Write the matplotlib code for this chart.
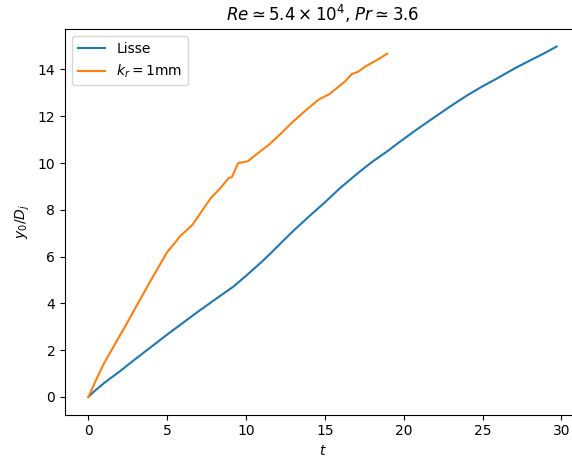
import numpy as np
import matplotlib
matplotlib.use("Agg")
import matplotlib.pyplot as plt

# Lisse (smooth wall)
t_lisse = [0, 0.3, 1, 2, 2.9, 4, 5, 6.1, 7, 8, 9.2, 10, 11, 11.65, 12.3, 13, 14,
           15, 16, 17.15, 18, 19, 19.7, 20.8, 22, 23, 24, 25, 25.8, 27, 28, 29, 29.7]
y_lisse = [0, 0.2, 0.6, 1.1, 1.58, 2.15, 2.67, 3.22, 3.67, 4.15, 4.72, 5.18, 5.78,
           6.2, 6.64, 7.1, 7.72, 8.32, 8.95, 9.6, 10.05, 10.52, 10.88, 11.42,
           11.98, 12.44, 12.88, 13.28, 13.57, 14.03, 14.38, 14.72, 14.98]

# k_r = 1mm (rough wall)
t_rough = [0, 0.5, 1, 2, 2.5, 3, 4, 5, 5.5, 5.8, 6.6, 7.2, 7.76, 8.4, 8.9, 9.1,
           9.5, 10.1, 10.8, 11.4, 12.2, 12.9, 13.7, 14.6, 15.3, 15.9, 16.3, 16.7,
           17.1, 17.6, 18.3, 18.95]
y_rough = [0, 0.75, 1.45, 2.63, 3.22, 3.83, 5.03, 6.2, 6.6, 6.86, 7.36, 7.95, 8.5,
           8.95, 9.36, 9.4, 10.0, 10.07, 10.45, 10.75, 11.25, 11.72, 12.2, 12.71,
           12.95, 13.28, 13.5, 13.8, 13.9, 14.14, 14.4, 14.67]

fig = plt.figure(figsize=(5.72, 4.58), dpi=100)
ax = fig.add_axes([65 / 572, 43.5 / 458, 515 / 572, 385.5 / 458])

ax.plot(t_lisse, y_lisse, label='Lisse')
ax.plot(t_rough, y_rough, label=r'$k_r = 1$mm')

ax.set_xlabel(r'$t$')
ax.set_ylabel(r'$y_0/D_j$')
ax.set_title(r'$Re \simeq 5.4 \times 10^4$, $Pr \simeq 3.6$')
ax.legend(loc='upper left')

fig.savefig('out.png', dpi=100)
